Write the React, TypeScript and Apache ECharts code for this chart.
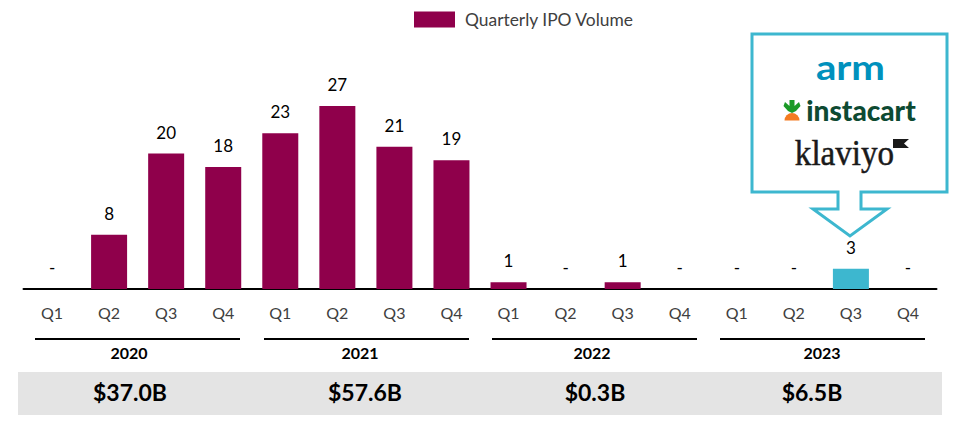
import React, { useEffect, useRef } from "react";
import * as echarts from "echarts";

const quarters = ["Q1","Q2","Q3","Q4","Q1","Q2","Q3","Q4","Q1","Q2","Q3","Q4","Q1","Q2","Q3","Q4"];
const volumes = [0,8,20,18,23,27,21,19,1,0,1,0,0,0,3,0];
const highlightedIndex = 14;
const years = ["2020","2021","2022","2023"];
const proceeds = ["$37.0B","$57.6B","$0.3B","$6.5B"];
const seriesName = "Quarterly IPO Volume";

const MAROON = "#8F004B";
const TEAL = "#3DB7CF";
const FONT = "Lato, Carlito, sans-serif";

export default function App() {
  const ref = useRef<HTMLDivElement>(null);
  useEffect(() => {
    document.body.style.margin = "0";
    const chart = echarts.init(ref.current!, undefined, { renderer: "svg" });
    const yearStarts = [35, 264, 492, 720];
    const yearCentres = [129, 360, 592, 822];
    const proceedCentres = [130, 365, 595, 812];
    const yearGraphics: any[] = [];
    yearStarts.forEach((x, i) => {
      yearGraphics.push({ type: "line", shape: { x1: x, y1: 339, x2: x + 205, y2: 339 }, style: { stroke: "#000", lineWidth: 2 } });
      yearGraphics.push({ type: "text", x: yearCentres[i], y: 352, style: { text: years[i], font: `bold 16px ${FONT}`, fill: "#000", textAlign: "center", textVerticalAlign: "middle" } });
      yearGraphics.push({ type: "text", x: proceedCentres[i], y: 392, style: { text: proceeds[i], font: `bold 23px ${FONT}`, fill: "#000", textAlign: "center", textVerticalAlign: "middle" } });
    });
    chart.setOption({
      animation: false,
      legend: {
        top: 6, left: 409, itemWidth: 41, itemHeight: 16, itemGap: 10, icon: "rect",
        data: [seriesName], selectedMode: false,
        textStyle: { fontFamily: FONT, fontSize: 17.4, color: "#404040", padding: [0, 0, 0, 5] },
      },
      grid: { left: 23.5, right: 22.5, top: 18, bottom: 134 },
      xAxis: {
        type: "category", data: quarters,
        axisLine: { lineStyle: { color: "#000", width: 2 } },
        axisTick: { show: false },
        axisLabel: { interval: 0, margin: 15, fontFamily: FONT, fontSize: 16, color: "#404040" },
      },
      yAxis: { type: "value", min: 0, max: 40, show: false, splitLine: { show: false } },
      series: [{
        type: "bar", name: seriesName, barWidth: 36,
        itemStyle: { color: MAROON },
        data: volumes.map((v, i) => ({
          value: v,
          itemStyle: { color: i === highlightedIndex ? TEAL : MAROON },
        })),
        label: {
          show: true, position: "top", distance: 13, fontFamily: FONT, fontSize: 17, color: "#000",
          formatter: (p: any) => (p.value === 0 ? "-" : String(p.value)),
        },
      }],
      graphic: [
        { type: "rect", z: -1, shape: { x: 18, y: 372, width: 924, height: 43 }, style: { fill: "#E4E4E4" } },
        ...yearGraphics,
        {
          type: "polygon",
          shape: { points: [[752,34],[947,34],[947,192],[861,192],[861,209],[887,209],[850,236],[813,209],[838,209],[838,192],[752,192]] },
          style: { fill: "#fff", stroke: TEAL, lineWidth: 3 },
        },
        { type: "text", x: 850.5, y: 67, scaleX: 1.15, style: { text: "arm", font: `bold 35px ${FONT}`, fill: "#0091BD", textAlign: "center", textVerticalAlign: "middle" } },
        { type: "text", x: 861, y: 110, style: { text: "instacart", font: `900 28px ${FONT}`, fill: "#0D4A32", textAlign: "center", textVerticalAlign: "middle" } },
        { type: "polygon", shape: { points: [[789.5,100],[794.5,100],[794.5,106],[799,102],[800.5,106],[796,111],[792,113],[788,111],[783.5,106],[785,102],[789.5,106]] }, style: { fill: "#1B9A26" } },
        { type: "sector", shape: { cx: 792, cy: 120.5, r: 7.5, r0: 0, startAngle: Math.PI, endAngle: 2 * Math.PI }, style: { fill: "#F47B20" } },
        { type: "text", x: 844.5, y: 153, scaleX: 0.92, style: { text: "klaviyo", font: `36px "Liberation Serif", serif`, fill: "#1A1A1A", stroke: "#1A1A1A", lineWidth: 0.5, textAlign: "center", textVerticalAlign: "middle" } },
        { type: "polygon", shape: { points: [[893,139],[909,139],[904,143.5],[909,148],[893,148]] }, style: { fill: "#1A1A1A" } },
      ],
    });
    return () => chart.dispose();
  }, []);
  return <div ref={ref} style={{ position: "absolute", left: 0, top: 0, width: 959, height: 423 }} />;
}
